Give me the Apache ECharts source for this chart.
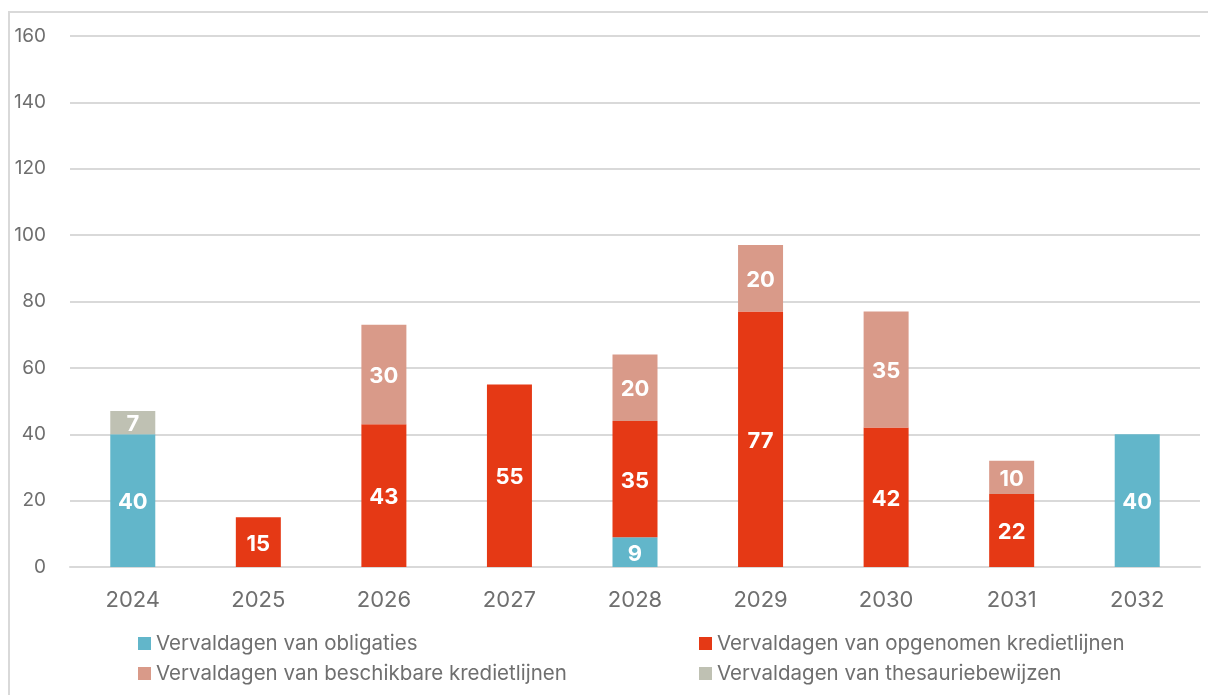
<!DOCTYPE html>
<html>
<head>
<meta charset="utf-8">
<script src="https://cdn.jsdelivr.net/npm/echarts@6/dist/echarts.min.js"></script>
<style>
    html, body { margin: 0; padding: 0; background: #fff; }
    #chart { width: 1208px; height: 695px; }
</style>
</head>
<body>
<div id="chart"></div>
<script>
    const years = ['2024', '2025', '2026', '2027', '2028', '2029', '2030', '2031', '2032'];
    const obligaties = [40, null, null, null, 9, null, null, null, 40];
    const opgenomen = [null, 15, 43, 55, 35, 77, 42, 22, null];
    const beschikbaar = [null, null, 30, null, 20, 20, 35, 10, null];
    const thesaurie = [7, null, null, null, null, null, null, null, null];

    const names = [
        'Vervaldagen van obligaties',
        'Vervaldagen van opgenomen kredietlijnen',
        'Vervaldagen van beschikbare kredietlijnen',
        'Vervaldagen van thesauriebewijzen'
    ];
    const colors = ['#62b6ca', '#e53915', '#d99a89', '#bfc1b3'];
    const font = 'Inter, "Noto Sans", sans-serif';

    function bar(name, data, color) {
        return {
            name: name,
            type: 'bar',
            stack: 'total',
            barWidth: 45,
            data: data,
            itemStyle: { color: color },
            label: {
                show: true,
                position: 'inside',
                offset: [0, 2],
                color: '#fff',
                fontFamily: font,
                fontWeight: 'bold',
                fontSize: 22
            }
        };
    }

    const chart = echarts.init(document.getElementById('chart'));
    const legendText = { color: '#6f6f6f', fontSize: 20.5, fontFamily: font };
    chart.setOption({
        animation: false,
        color: colors,
        graphic: [{
            type: 'polyline',
            shape: { points: [[9, 700], [9, 12], [1210, 12]] },
            style: { stroke: '#d9d9d9', lineWidth: 2, fill: null }
        }],
        grid: { left: 70, right: 8, top: 36, bottom: 128 },
        legend: [{
            data: [names[0], names[2]],
            orient: 'vertical',
            left: 133, top: 628,
            itemWidth: 13, itemHeight: 13, itemGap: 9,
            icon: 'rect',
            textStyle: legendText
        }, {
            data: [names[1], names[3]],
            orient: 'vertical',
            left: 694, top: 628,
            itemWidth: 13, itemHeight: 13, itemGap: 9,
            icon: 'rect',
            textStyle: legendText
        }],
        xAxis: {
            type: 'category',
            data: years,
            axisTick: { show: false },
            axisLine: { lineStyle: { color: '#d9d9d9', width: 2 } },
            axisLabel: { color: '#6f6f6f', fontSize: 22, fontFamily: font, margin: 22 }
        },
        yAxis: {
            type: 'value',
            min: 0, max: 160, interval: 20,
            axisLabel: { color: '#6f6f6f', fontSize: 19, fontFamily: font, margin: 24 },
            splitLine: { lineStyle: { color: '#d9d9d9', width: 2 } }
        },
        series: [
            bar(names[0], obligaties, colors[0]),
            bar(names[1], opgenomen, colors[1]),
            bar(names[2], beschikbaar, colors[2]),
            bar(names[3], thesaurie, colors[3])
        ]
    });
</script>
</body>
</html>
